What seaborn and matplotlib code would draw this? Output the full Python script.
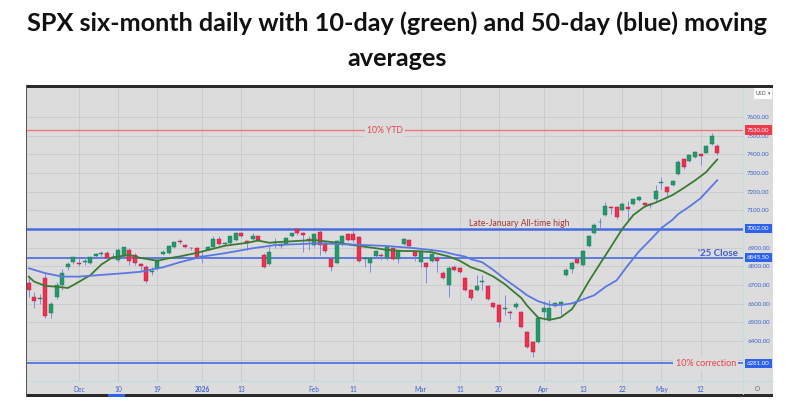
import matplotlib.pyplot as plt
import matplotlib.transforms as mtransforms
from matplotlib.patches import Rectangle
import numpy as np
import pandas as pd
import seaborn as sns

sns.set_theme(style="white")
plt.rcParams["font.family"] = ["Lato", "DejaVu Sans"]

BG, GRID = "#dcdcdc", "#cacaca"
UP, DOWN, WICK = "#23996b", "#ef2f50", "#7c8de6"
MA_FAST, MA_SLOW = "#3b7a33", "#5a77e2"
LVL_BLUE, LVL_RED, TXT_RED = "#466be0", "#ef7777", "#e8404f"
AXIS_TXT = "#3d62d2"

# trading-day index, 0 = 1 Dec 2025 (first candle is 17 Nov)
first_day = -9
opens = [6709, 6637, 6625, 6736, 6548, 6634, 6700, 6795, 6822,
         6815, 6822, 6816, 6857, 6866, 6873, 6846, 6836, 6855, 6888, 6860, 6812, 6798, 6770, 6790,
         6866, 6873, 6905, 6937, 6914, 6900, 6897,
         6851, 6888, 6902, 6945, 6918, 6925, 6940, 6977, 6935, 6945, 6960, 6861, 6813, 6925, 6909,
         6920, 6963, 7000, 6977, 6946,
         6914, 6986, 6925, 6838, 6816, 6918, 6972, 6973, 6955, 6840, 6819, 6855, 6860, 6843, 6897,
         6838, 6918, 6941, 6876,
         6825, 6816, 6830, 6847, 6766, 6700, 6796, 6790, 6736, 6673, 6673, 6718, 6694, 6602, 6593,
         6570, 6557, 6584, 6557, 6450, 6396, 6396,
         6557, 6513, 6590, 6598, 6754, 6784, 6838, 6807, 6909, 6977, 7035, 7075, 7120, 7120, 7102,
         7120, 7134, 7155, 7138, 7134, 7159,
         7245, 7224, 7234, 7295, 7373, 7366, 7387, 7402, 7409, 7455, 7445.11]
highs = [6754, 6664, 6650, 6763, 6611, 6716, 6785, 6825, 6852,
         6842, 6852, 6852, 6870, 6880, 6880, 6870, 6897, 6905, 6897, 6870, 6820, 6807, 6798, 6840,
         6885, 6914, 6936, 6945, 6914, 6905, 6905,
         6880, 6908, 6960, 6960, 6930, 6965, 6982, 6982, 6940, 6980, 6962, 6870, 6914, 6952, 6925,
         6959, 6980, 7002, 6982, 6962,
         6980, 6995, 6932, 6845, 6941, 6968, 6980, 6995, 6962, 6852, 6852, 6886, 6870, 6905, 6902,
         6886, 6950, 6945, 6886,
         6886, 6825, 6870, 6855, 6775, 6800, 6805, 6798, 6745, 6680, 6754, 6754, 6700, 6611, 6600,
         6646, 6566, 6611, 6562, 6455, 6400, 6530,
         6616, 6620, 6611, 6616, 6790, 6830, 6843, 6886, 6968, 7030, 7057, 7146, 7125, 7125, 7145,
         7150, 7164, 7177, 7147, 7140, 7238,
         7277, 7230, 7262, 7370, 7380, 7402, 7418, 7405, 7450, 7516, 7454.85]
lows = [6637, 6575, 6600, 6522, 6522, 6625, 6675, 6780, 6815,
        6802, 6808, 6810, 6850, 6851, 6840, 6838, 6825, 6843, 6807, 6805, 6780, 6712, 6754, 6780,
        6860, 6868, 6900, 6920, 6897, 6890, 6840,
        6820, 6885, 6898, 6915, 6910, 6920, 6935, 6958, 6890, 6940, 6935, 6790, 6808, 6898, 6900,
        6915, 6958, 6970, 6878, 6890,
        6905, 6861, 6870, 6777, 6812, 6910, 6937, 6932, 6825, 6795, 6772, 6852, 6834, 6834, 6834,
        6816, 6914, 6905, 6830,
        6798, 6709, 6825, 6771, 6730, 6634, 6775, 6765, 6668, 6620, 6668, 6673, 6618, 6575, 6477,
        6541, 6520, 6570, 6472, 6361, 6316, 6390,
        6513, 6508, 6584, 6539, 6750, 6766, 6812, 6802, 6905, 6973, 7003, 7070, 7080, 7055, 7098,
        7048, 7130, 7150, 7120, 7110, 7152,
        7213, 7173, 7230, 7290, 7320, 7361, 7382, 7343, 7405, 7450, 7397.50]
closes = [6673, 6616, 6632, 6534, 6600, 6700, 6765, 6812, 6849,
          6812, 6829, 6849, 6864, 6871, 6846, 6850, 6886, 6901, 6827, 6816, 6800, 6721, 6775, 6834,
          6878, 6909, 6932, 6930, 6906, 6896, 6845.5,
          6858, 6902, 6945, 6920, 6924, 6962, 6977, 6963, 6926, 6965, 6940, 6796, 6875, 6932, 6918,
          6950, 6977, 6978, 6969, 6938,
          6975, 6916, 6880, 6796, 6937, 6960, 6941, 6941, 6830, 6843, 6843, 6880, 6855, 6902, 6838,
          6884, 6946, 6909, 6858,
          6882, 6798, 6866, 6829, 6736, 6790, 6781, 6771, 6673, 6629, 6694, 6722, 6623, 6581, 6503,
          6578, 6548, 6597, 6477, 6366, 6343, 6521,
          6575, 6575, 6605, 6611, 6780, 6820, 6816, 6882, 6962, 7021, 7040, 7123, 7111, 7063, 7134,
          7107, 7159, 7173, 7130, 7127, 7206,
          7254, 7200, 7257, 7361, 7334, 7396, 7414, 7392, 7445, 7498, 7408.50]

# moving averages at sample days
ma10_days = [-9, -8, -6, -4, -2, -1, 2, 4, 6, 9, 11, 14, 16, 18, 21, 23, 26, 28, 30, 32,
             34, 35, 39, 42, 46, 48, 51, 53, 55, 58, 60, 63, 64, 66, 68, 70, 72, 74, 76, 79,
             80, 82, 84, 86, 88, 89, 91, 93, 95, 97, 99, 101, 103, 104, 106, 108, 110, 112, 113, 114]
ma10_vals = [6745, 6718, 6695, 6691, 6684, 6700, 6752, 6810, 6848, 6861, 6845, 6830, 6843, 6853,
             6872, 6887, 6910, 6918, 6926, 6938, 6926, 6929, 6936, 6941, 6927, 6918, 6905, 6897,
             6888, 6882, 6882, 6876, 6868, 6853, 6830, 6795, 6775, 6745, 6705, 6630, 6590, 6525,
             6513, 6526, 6570, 6615, 6718, 6812, 6905, 7000, 7075, 7120, 7142, 7155, 7182, 7220,
             7260, 7305, 7340, 7373]
ma50_days = [-9, -6, -3, 0, 4, 8, 11, 15, 18, 22, 26, 29, 31, 33, 35, 40, 42, 46, 51, 55, 60,
             63, 65, 67, 69, 70, 72, 74, 76, 79, 80, 82, 84, 86, 88, 92, 94, 96, 98, 100, 102,
             104, 106, 107, 109, 111, 113, 114]
ma50_vals = [6790, 6763, 6745, 6745, 6754, 6763, 6771, 6795, 6822, 6852, 6870, 6886, 6897, 6905,
             6914, 6920, 6923, 6920, 6914, 6909, 6897, 6887, 6879, 6864, 6852, 6838, 6822, 6780,
             6733, 6668, 6645, 6613, 6594, 6593, 6601, 6645, 6690, 6725, 6805, 6880, 6941, 7005,
             7050, 7080, 7120, 7165, 7230, 7262]

tick_days = [0, 7, 14, 22, 29, 42, 49, 61, 68, 75, 83, 90, 97, 104, 111]
tick_labels = ["Dec", "10", "19", "2026", "13", "Feb", "11", "Mar", "11", "20", "Apr", "13", "22", "May", "12"]
price_ticks = list(range(6300, 7700, 100))
# labels at 7000 and 6300 sit under the level tags
price_labels = ["" if p in (7000, 6300) else f"{p:.2f}" for p in price_ticks]

level_prices = [7530, 7002, 6845.5, 6281]
level_colors = [LVL_RED, LVL_BLUE, LVL_BLUE, LVL_BLUE]
level_widths = [1.0, 1.8, 1.2, 1.2]
level_tags = ["7530.00", "7002.00", "6845.50", "6281.00"]

df = pd.DataFrame({"day": np.arange(first_day, first_day + len(opens)),
                   "open": opens, "high": highs, "low": lows, "close": closes})
df["up"] = df["close"] >= df["open"]

fig = plt.figure(figsize=(7.94, 4.15), dpi=100)
frame = fig.add_axes([0, 0, 1, 1])
frame.set_xlim(0, 794)
frame.set_ylim(415, 0)
frame.axis("off")
frame.add_patch(Rectangle((26, 85), 747, 312, color=BG, lw=0))
frame.add_patch(Rectangle((26, 85), 747, 3, color="#2a2a2a", lw=0))
frame.add_patch(Rectangle((26, 394), 747, 3, color="#2a2a2a", lw=0))
frame.add_patch(Rectangle((26, 85), 1.2, 312, color="#555555", lw=0))
frame.add_patch(Rectangle((108, 394), 17, 2.5, color="#2f62f0", lw=0))
frame.plot([743, 743], [88, 394], color="#bfe0e0", lw=0.8)
frame.plot([27, 773], [381, 381], color="#bfe0e0", lw=0.8)
frame.add_patch(Rectangle((733, 89), 9, 9, color="#2f62e8", lw=0))
frame.add_patch(Rectangle((735.5, 91.5), 4, 4, fc="none", ec="white", lw=0.5))
frame.add_patch(Rectangle((754, 88), 18, 11, color="white", lw=0))
frame.text(756, 93.5, "USD", fontsize=3.8, color="#555555", va="center")
frame.text(769, 93.5, "▾", fontsize=3.5, color="#555555", va="center", ha="center",
           family=["DejaVu Sans"])
frame.plot(757, 388, marker="o", mfc="none", mec="#888888", ms=3, mew=0.6)

hdr = dict(fontsize=3.5, va="center")
frame.text(32, 96, "SPX · 1D · MXP · Trade Price  O7445.11  H7454.85  L7397.50  C7408.50",
           color="#5a6cd6", **hdr)
frame.text(198, 96, "‹", color="#333333", **hdr)
frame.text(207, 96, "MA", color="#4a63d8", **hdr)
frame.text(217, 96, "7372.89", color=MA_FAST, **hdr)
frame.text(238, 96, "MA", color="#4a63d8", **hdr)
frame.text(249, 96, "7260.96", color=MA_SLOW, **hdr)

fig.text(0.5, 0.973, "SPX six-month daily with 10-day (green) and 50-day (blue) moving\naverages",
         ha="center", va="top", fontsize=18.2, fontweight="bold", color="#111111", linespacing=1.62)

ax = fig.add_axes([27 / 794, (415 - 381) / 415, (743 - 27) / 794, (381 - 88) / 415])
ax.set_facecolor(BG)
ax.set_xlim(-9.29, 118.57)
ax.set_ylim(6185.7, 7755.4)
for s in ax.spines.values():
    s.set_visible(False)
ax.set_xticks(tick_days, tick_labels)
ax.set_yticks(price_ticks, price_labels)
ax.yaxis.tick_right()
ax.grid(True, color=GRID, lw=0.6)
ax.tick_params(axis="x", length=0, pad=3.5, labelsize=4.8, labelcolor=AXIS_TXT)
ax.tick_params(axis="y", length=0, pad=3, labelsize=4.4, labelcolor=AXIS_TXT)
ax.get_xticklabels()[3].set_fontweight("bold")
ax.set_axisbelow(True)

for price, color, lw in zip(level_prices, level_colors, level_widths):
    ax.axhline(price, color=color, lw=lw, zorder=2)

ax.vlines(df["day"], df["low"], df["high"], color=WICK, lw=0.7, zorder=3)
body_low = df[["open", "close"]].min(axis=1)
body_h = (df["close"] - df["open"]).abs().clip(lower=4)
ax.bar(df["day"], body_h, bottom=body_low, width=0.74,
       color=np.where(df["up"], UP, DOWN), edgecolor=np.where(df["up"], "#177a52", "#c01c3a"),
       lw=0.3, zorder=4)

sns.lineplot(x=ma10_days, y=ma10_vals, color=MA_FAST, lw=1.3, ax=ax, zorder=5)
sns.lineplot(x=ma50_days, y=ma50_vals, color=MA_SLOW, lw=1.3, ax=ax, zorder=5)
ax.set_xlabel("")
ax.set_ylabel("")

gap = dict(boxstyle="square,pad=0.25", fc=BG, ec="none")
ax.text(54.6, 7530, "10% YTD", color=TXT_RED, fontsize=6.2, ha="center", va="center",
        bbox=gap, zorder=6)
ax.text(69.6, 7027, "Late-January All-time high", color="#a23636", fontsize=6.2, ha="left",
        va="center", zorder=6)
ax.text(117.7, 6871, "'25 Close", color="#3d5ccf", fontsize=7, fontweight="bold", ha="right",
        va="center", zorder=6)
ax.text(117.3, 6281, "10% correction", color=TXT_RED, fontsize=6.5, ha="right", va="center",
        bbox=gap, zorder=6)

tag_tr = mtransforms.blended_transform_factory(ax.transAxes, ax.transData)
for price, color, tag in zip(level_prices, level_colors, level_tags):
    ax.text(1.0055, price, tag, transform=tag_tr, color="white", fontsize=4.4, ha="left",
            va="center", clip_on=False, zorder=7,
            bbox=dict(boxstyle="square,pad=0.35", fc="#ef3a4c" if color == LVL_RED else "#2f62ea",
                      ec="none"))

fig.savefig("out.png", dpi=100)
